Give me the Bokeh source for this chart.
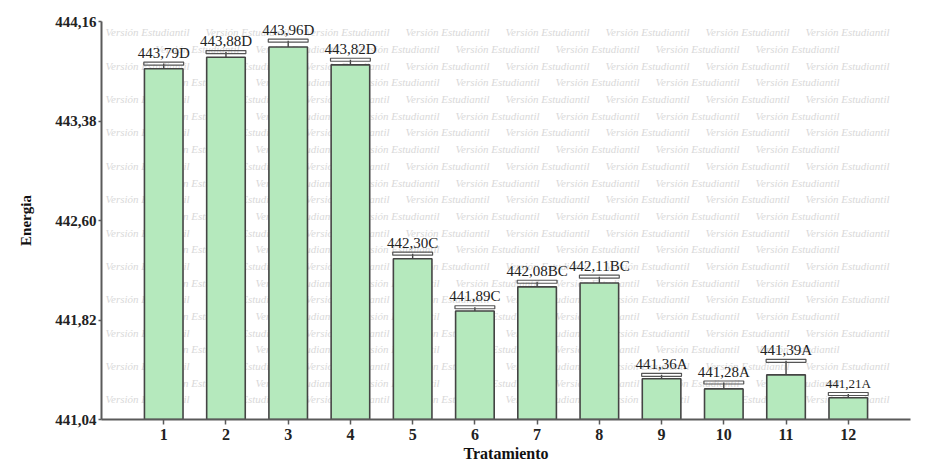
from bokeh.plotting import figure
from bokeh.models import (ColumnDataSource, Range1d, FixedTicker,
                          CustomJSTickFormatter, LabelSet)
from bokeh.embed import file_html
from bokeh.resources import INLINE

# Mean energy per treatment, upper error and significance group
treatments = [1, 2, 3, 4, 5, 6, 7, 8, 9, 10, 11, 12]
energia = [443.79, 443.88, 443.96, 443.82, 442.30, 441.89,
           442.08, 442.11, 441.36, 441.28, 441.39, 441.21]
error_sup = [0.04, 0.04, 0.05, 0.04, 0.04, 0.03,
             0.04, 0.05, 0.03, 0.05, 0.11, 0.03]
grupos = ["D", "D", "D", "D", "C", "C", "BC", "BC", "A", "A", "A", "A"]
y_ticks = [441.04, 441.82, 442.60, 443.38, 444.16]

Y_MIN, Y_MAX = y_ticks[0], y_ticks[-1]
SERIF = "Liberation Serif"

W, H = 928, 467
LEFT, RIGHT, TOP, BOTTOM = 101, 18, 21, 48
FRAME_W = W - LEFT - RIGHT
FRAME_H = H - TOP - BOTTOM

tops = [v + e for v, e in zip(energia, error_sup)]
etiquetas = [f"{v:.2f}".replace(".", ",") + g for v, g in zip(energia, grupos)]
tamanos = ["15px"] * (len(treatments) - 1) + ["13px"]

src = ColumnDataSource(dict(x=treatments, y=energia, top=tops,
                            label=etiquetas, size=tamanos))

p = figure(width=W, height=H, output_backend="svg", toolbar_location=None,
           x_range=Range1d(0, 13), y_range=Range1d(Y_MIN, Y_MAX),
           min_border_left=LEFT, min_border_right=RIGHT,
           min_border_top=TOP, min_border_bottom=BOTTOM)
p.outline_line_color = None
p.xgrid.visible = False
p.ygrid.visible = False
p.background_fill_color = "white"
p.border_fill_color = "white"

# faint "Versión Estudiantil" watermark tiled behind the bars
# (only whole copies that fit inside the plotting area)
WM_LEN = 82
wm_x, wm_y, wm_t = [], [], []
row = 0
cy = 15.3
while cy < H:
    start = 55 if row % 2 == 0 else 5
    cx = start
    while cx < W:
        sx = cx - LEFT
        sy = (H - BOTTOM) - cy
        if sx >= 2 and sx + WM_LEN <= FRAME_W - 2 and 6 <= sy <= FRAME_H - 6:
            wm_x.append(sx)
            wm_y.append(sy)
            wm_t.append("Versión Estudiantil")
        cx += 100
    cy += 16.67
    row += 1
wm_src = ColumnDataSource(dict(x=wm_x, y=wm_y, t=wm_t))
p.add_layout(LabelSet(x="x", y="y", text="t", source=wm_src,
                      x_units="screen", y_units="screen",
                      text_font="Liberation Sans", text_font_style="italic",
                      text_font_size="11px", text_color="#d9d9d9",
                      text_baseline="middle", text_align="left",
                      level="underlay"))

# bars
p.vbar(x="x", top="y", bottom=Y_MIN, width=0.62, source=src,
       fill_color="#b5e9bd", line_color="#444444", line_width=1.6)

# upper error bars with doubled caps
p.segment(x0="x", y0="y", x1="x", y1="top", source=src,
          line_color="#444444", line_width=1.4)
p.rect(x="x", y="top", width=0.64, height=3, height_units="screen",
       source=src, fill_color="white", fill_alpha=0.0,
       line_color="#555555", line_width=1.2)

# value labels with significance letters
p.text(x="x", y="top", text="label", source=src, y_offset=-3,
       text_align="center", text_baseline="bottom",
       text_font=SERIF, text_font_size="size", text_color="#222222")

# axes
for ax in (p.xaxis[0], p.yaxis[0]):
    ax.axis_line_color = "#5a5a5a"
    ax.axis_line_width = 2
    ax.major_tick_line_color = "#5a5a5a"
    ax.major_tick_line_width = 1.5
    ax.minor_tick_line_color = None
    ax.major_tick_in = 0
    ax.major_label_text_font = SERIF
    ax.major_label_text_font_style = "bold"
    ax.major_label_text_color = "#222222"
    ax.axis_label_text_font = SERIF
    ax.axis_label_text_font_style = "bold"
    ax.axis_label_text_color = "#111111"

p.xaxis.ticker = FixedTicker(ticks=treatments)
p.xaxis.major_tick_out = 5
p.xaxis.major_label_text_font_size = "16px"
p.xaxis.major_label_standoff = 4
p.xaxis.axis_label = "Tratamiento"
p.xaxis.axis_label_text_font_size = "16px"
p.xaxis.axis_label_standoff = 2

p.yaxis.ticker = FixedTicker(ticks=y_ticks)
p.yaxis.formatter = CustomJSTickFormatter(
    code="return tick.toFixed(2).replace('.', ',');")
p.yaxis.major_tick_out = 3
p.yaxis.major_label_text_font_size = "15px"
p.yaxis.major_label_standoff = 2
p.yaxis.axis_label = "Energia"
p.yaxis.axis_label_text_font_size = "15px"
p.yaxis.axis_label_standoff = 18

open("out.html", "w").write(file_html(p, INLINE))
